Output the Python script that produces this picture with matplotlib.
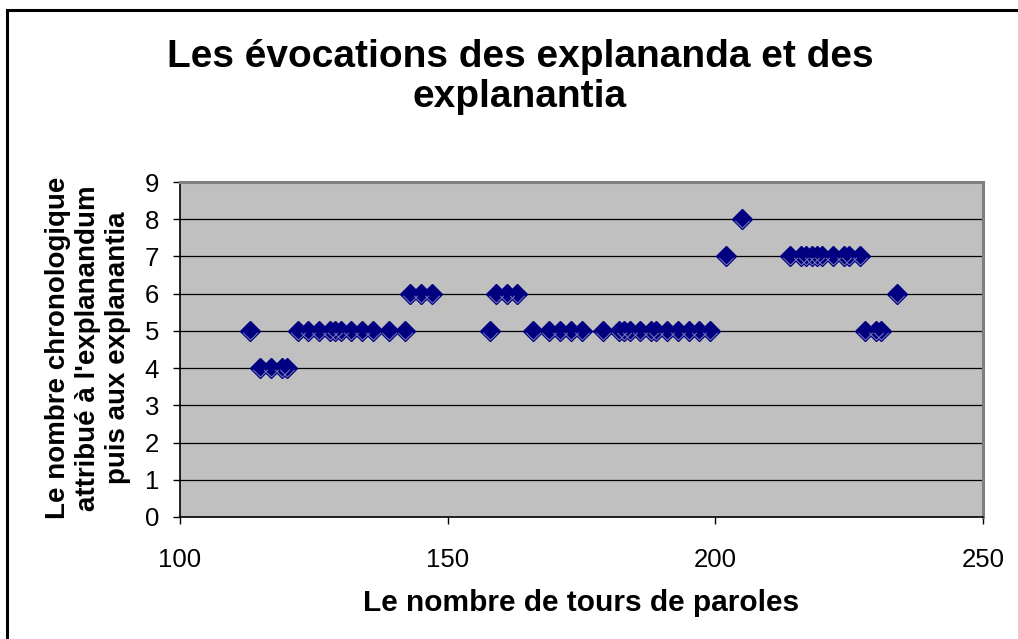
import numpy as np
import matplotlib
matplotlib.use("Agg")
from matplotlib import pyplot as plt
from matplotlib.path import Path
from matplotlib.patches import Rectangle

plt.rcParams['font.family'] = ['Liberation Sans', 'DejaVu Sans']

# nombre de tours de paroles / rang chronologique
tours = [113,
         115, 117, 119, 120,
         122, 124, 126, 128, 129, 130, 132, 134, 136, 139, 142,
         143, 145, 147,
         158,
         159, 161, 163,
         166, 169, 171, 173, 175, 179, 182, 183, 184, 186, 188, 189, 191, 193, 195, 197, 199,
         202, 205,
         214, 216, 217, 218, 219, 220, 222, 224, 225, 227,
         228, 230, 231,
         234]
rang = [5,
        4, 4, 4, 4,
        5, 5, 5, 5, 5, 5, 5, 5, 5, 5, 5,
        6, 6, 6,
        5,
        6, 6, 6,
        5, 5, 5, 5, 5, 5, 5, 5, 5, 5, 5, 5, 5, 5, 5, 5, 5,
        7, 8,
        7, 7, 7, 7, 7, 7, 7, 7, 7, 7,
        5, 5, 5,
        6]

x_ticks = [100, 150, 200, 250]
y_ticks = list(range(0, 10))

titre = "Les évocations des explananda et des\nexplanantia"
x_titre = "Le nombre de tours de paroles"
y_titre = "Le nombre chronologique\nattribué à l'explanandum\npuis aux explanantia"

W, H = 1018, 639
fig = plt.figure(figsize=(W / 100, H / 100), dpi=100)
ax = fig.add_axes([180 / W, 1 - 517 / H, 803 / W, 335 / H])
ax.set_facecolor('#c0c0c0')

for yv in y_ticks[1:]:
    ax.axhline(yv, color='black', lw=0.9, zorder=1)

ax.plot(tours, rang, linestyle='none', marker='D', ms=10, mfc='#000080',
        mec='#000080', mew=1.0, zorder=3)
# petit reflet clair dans le losange
vmark = Path([(-0.55, 0.05), (0.0, -0.5), (0.55, 0.05)],
             [Path.MOVETO, Path.LINETO, Path.LINETO])
ax.plot(tours, np.array(rang) - 0.05, linestyle='none', marker=vmark, ms=10.5,
        mfc='none', mec='#7a7ab8', mew=0.7, zorder=4)

ax.set_xlim(100, 250)
ax.set_ylim(0, 9)
ax.set_xticks(x_ticks)
ax.set_yticks(y_ticks)
ax.tick_params(axis='x', direction='out', length=5, width=1, labelsize=18.5, pad=17)
ax.tick_params(axis='y', direction='out', length=5, width=1, labelsize=18.5, pad=10)

for s in ['left', 'bottom']:
    ax.spines[s].set_color('black')
    ax.spines[s].set_linewidth(1.2)
for s in ['top', 'right']:
    ax.spines[s].set_color('#808080')
    ax.spines[s].set_linewidth(2.2)

fig.text(520 / W, 1 - 77 / H, titre, ha='center', va='center', fontsize=28,
         fontweight='bold', linespacing=1.15)
fig.text(581 / W, 1 - 603 / H, x_titre, ha='center', va='center', fontsize=21.5,
         fontweight='bold')
fig.text(88 / W, 1 - 348 / H, y_titre, ha='center', va='center', fontsize=20,
         fontweight='bold', rotation=90, multialignment='center', linespacing=1.2)

# cadre du graphique
fig.patches.append(Rectangle((7 / W, -0.1), 1.2, 1 - 10 / H + 0.1,
                             transform=fig.transFigure, fill=False,
                             ec='black', lw=2.2, clip_on=False))

fig.savefig('out.png', dpi=100)
